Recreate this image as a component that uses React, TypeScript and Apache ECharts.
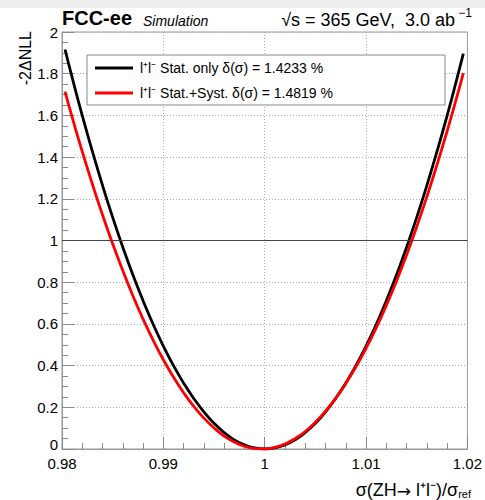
import React, { useEffect, useRef } from "react";
import * as echarts from "echarts";

const xValues = [0.9803, 0.981, 0.982, 0.983, 0.984, 0.985, 0.986, 0.987, 0.988, 0.989, 0.99, 0.991, 0.992, 0.993, 0.994, 0.995, 0.996, 0.997, 0.998, 0.999, 1.0, 1.001, 1.002, 1.003, 1.004, 1.005, 1.006, 1.007, 1.008, 1.009, 1.01, 1.011, 1.012, 1.013, 1.014, 1.015, 1.016, 1.017, 1.018, 1.019, 1.0196];
const statOnly = [1.916, 1.782, 1.599, 1.427, 1.264, 1.111, 0.968, 0.834, 0.711, 0.597, 0.494, 0.4, 0.316, 0.242, 0.178, 0.123, 0.079, 0.044, 0.02, 0.005, 0.0, 0.005, 0.02, 0.044, 0.079, 0.123, 0.178, 0.242, 0.316, 0.4, 0.494, 0.597, 0.711, 0.834, 0.968, 1.111, 1.264, 1.427, 1.599, 1.782, 1.896];
const statSyst = [1.714, 1.592, 1.426, 1.27, 1.122, 0.984, 0.855, 0.734, 0.623, 0.521, 0.428, 0.345, 0.27, 0.204, 0.148, 0.101, 0.062, 0.033, 0.013, 0.002, 0.0, 0.008, 0.024, 0.05, 0.084, 0.128, 0.181, 0.243, 0.314, 0.394, 0.483, 0.581, 0.689, 0.805, 0.931, 1.066, 1.21, 1.363, 1.525, 1.696, 1.803];
const seriesNames = ["l\u207Al\u207B Stat. only \u03B4(\u03C3) = 1.4233 %", "l\u207Al\u207B Stat.+Syst. \u03B4(\u03C3) = 1.4819 %"];
const seriesColors = ["#000000", "#ff0000"];
const refLine = 1;

const FONT = "'Liberation Sans', Arial, Helvetica, sans-serif";
const SYMFONT = "'DejaVu Sans', sans-serif";

export default function App() {
  const ref = useRef<HTMLDivElement>(null);
  useEffect(() => {
    if (!ref.current) return;
    const chart = echarts.init(ref.current, null, { renderer: "svg" });
    const mk = (ys: number[]) => xValues.map((x, i) => [x, ys[i]]);
    chart.setOption({
      animation: false,
      backgroundColor: "#ffffff",
      grid: { left: 62, right: 14, top: 32, bottom: 51, show: true, borderColor: "#999", borderWidth: 1 },
      xAxis: {
        type: "value",
        min: 0.98,
        max: 1.02,
        interval: 0.01,
        axisLine: { show: true, lineStyle: { color: "#999", width: 1 } },
        axisTick: { show: true, inside: true, length: 12, lineStyle: { color: "#888" } },
        minorTick: { show: true, splitNumber: 5, length: 6, lineStyle: { color: "#888" } },
        splitLine: { show: true, lineStyle: { color: "#aaa", type: [1, 2], width: 1 } },
        axisLabel: {
          color: "#000",
          fontFamily: FONT,
          fontSize: 15,
          margin: 7,
          formatter: (v: number) => String(Math.round(v * 100) / 100),
        },
      },
      yAxis: {
        type: "value",
        min: 0,
        max: 2,
        interval: 0.2,
        axisLine: { show: true, lineStyle: { color: "#999", width: 1 } },
        axisTick: { show: true, inside: true, length: 12, lineStyle: { color: "#888" } },
        minorTick: { show: true, splitNumber: 4, length: 6, lineStyle: { color: "#888" } },
        splitLine: { show: true, lineStyle: { color: "#aaa", type: [1, 2], width: 1 } },
        axisLabel: {
          color: "#000",
          fontFamily: FONT,
          fontSize: 15,
          margin: 4,
          formatter: (v: number) => {
            const s = String(Math.round(v * 10) / 10);
            return v === 0 ? "{z|" + s + "}" : s;
          },
          rich: {
            z: { fontFamily: FONT, fontSize: 15, color: "#000", padding: [0, 0, 9, 0] },
          },
        },
      },
      series: [
        {
          name: seriesNames[0],
          type: "line",
          data: mk(statOnly),
          smooth: true,
          showSymbol: false,
          lineStyle: { color: seriesColors[0], width: 2.8 },
          z: 3,
          markLine: {
            silent: true,
            symbol: "none",
            label: { show: false },
            lineStyle: { color: "#444", type: "solid", width: 1 },
            data: [{ yAxis: refLine }],
          },
        },
        {
          name: seriesNames[1],
          type: "line",
          data: mk(statSyst),
          smooth: true,
          showSymbol: false,
          lineStyle: { color: seriesColors[1], width: 2.8 },
          z: 4,
        },
      ],
      graphic: [
        { type: "rect", shape: { x: 0, y: 0, width: 485, height: 8 }, style: { fill: "#eeeeee" }, z: 100 },
        {
          type: "text", x: 62, y: 28,
          style: { text: "FCC-ee", fontFamily: FONT, fontWeight: "bold", fontSize: 20, fill: "#000", textVerticalAlign: "bottom" },
        },
        {
          type: "text", x: 143, y: 28,
          style: { text: "Simulation", fontFamily: FONT, fontStyle: "italic", fontSize: 14, fill: "#000", textVerticalAlign: "bottom" },
        },
        {
          type: "text", x: 472, y: 29,
          style: {
            text: "{a|\u221As = 365 GeV,  3.0 ab}{s| \u22121}",
            textAlign: "right",
            textVerticalAlign: "bottom",
            rich: {
              a: { fontFamily: FONT, fontSize: 18, fill: "#000", lineHeight: 22, verticalAlign: "bottom" },
              s: { fontFamily: FONT, fontSize: 12, fill: "#000", lineHeight: 22, verticalAlign: "top" },
            },
          },
        },
        {
          type: "text", x: 25, y: 31, rotation: Math.PI / 2,
          style: { text: "-2\u0394NLL", fontFamily: FONT, fontSize: 16, fill: "#000", textAlign: "right", textVerticalAlign: "middle" },
        },
        {
          type: "text", x: 471, y: 499,
          style: {
            text: "{a|\u03C3(ZH}{r|\u2192}{a| l\u207Al\u207B)/\u03C3}{b|ref}",
            textAlign: "right",
            textVerticalAlign: "bottom",
            rich: {
              a: { fontFamily: FONT, fontSize: 18, fill: "#000", lineHeight: 20, verticalAlign: "bottom" },
              r: { fontFamily: SYMFONT, fontSize: 17, fill: "#000", lineHeight: 20, verticalAlign: "bottom" },
              b: { fontFamily: FONT, fontSize: 11, fill: "#000", lineHeight: 8, verticalAlign: "bottom" },
            },
          },
        },
        {
          type: "rect", shape: { x: 87, y: 55, width: 358, height: 50 },
          style: { fill: "#fff", stroke: "#888", lineWidth: 1 }, z: 50,
        },
        {
          type: "line", shape: { x1: 95, y1: 68, x2: 133, y2: 68 },
          style: { stroke: seriesColors[0], lineWidth: 2.8 }, z: 51,
        },
        {
          type: "line", shape: { x1: 95, y1: 93, x2: 133, y2: 93 },
          style: { stroke: seriesColors[1], lineWidth: 2.8 }, z: 51,
        },
        {
          type: "text", x: 140, y: 68, z: 51,
          style: { text: seriesNames[0], fontFamily: FONT, fontSize: 14, fill: "#000", textVerticalAlign: "middle" },
        },
        {
          type: "text", x: 140, y: 93, z: 51,
          style: { text: seriesNames[1], fontFamily: FONT, fontSize: 14, fill: "#000", textVerticalAlign: "middle" },
        },
      ],
    });
    return () => chart.dispose();
  }, []);
  return (
    <div
      ref={ref}
      style={{ position: "fixed", left: 0, top: 0, width: 485, height: 500, background: "#fff" }}
    />
  );
}
